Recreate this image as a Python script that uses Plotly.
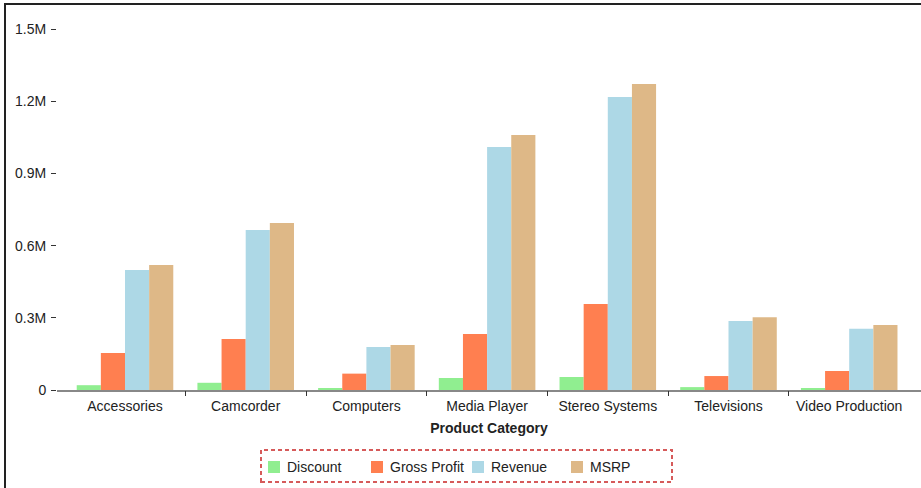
import plotly.graph_objects as go

categories = ["Accessories", "Camcorder", "Computers", "Media Player",
              "Stereo Systems", "Televisions", "Video Production"]
discount = [20000, 30000, 8000, 50000, 54000, 12000, 8000]
gross_profit = [154000, 212000, 68000, 233000, 357000, 58000, 79000]
revenue = [499000, 665000, 179000, 1010000, 1217000, 287000, 255000]
msrp = [519000, 694000, 187000, 1060000, 1271000, 302000, 270000]

series_names = ["Discount", "Gross Profit", "Revenue", "MSRP"]
series_values = [discount, gross_profit, revenue, msrp]
series_colors = ["#90EE90", "#FF7F50", "#ADD8E6", "#DEB887"]

y_tickvals = [0, 300000, 600000, 900000, 1200000, 1500000]
y_ticktext = ["0", "0.3M", "0.6M", "0.9M", "1.2M", "1.5M"]

FONT = "Liberation Sans, Arial, sans-serif"
TXT = "#222222"

fig = go.Figure()
for name, vals, col in zip(series_names, series_values, series_colors):
    fig.add_trace(go.Bar(name=name, x=categories, y=vals, showlegend=False,
                         marker=dict(color=col, line=dict(width=0))))

W, H = 921, 488
L, R, T, B = 57, 0, 29, 98
pw, ph = W - L - R, H - T - B


def px(x):
    return (x - L) / pw


def py(y):
    return (H - B - y) / ph


shapes = [
    # outer frame (left and top)
    dict(type="line", xref="paper", yref="paper", x0=px(5), x1=px(5), y0=py(3), y1=py(492),
         line=dict(color="#222222", width=2)),
    dict(type="line", xref="paper", yref="paper", x0=px(4), x1=px(925), y0=py(4), y1=py(4),
         line=dict(color="#222222", width=2)),
    # dashed legend box
    dict(type="rect", xref="paper", yref="paper", x0=px(261), x1=px(672), y0=py(482), y1=py(450),
         line=dict(color="#D65A5A", width=2, dash="4px,3px"), fillcolor="rgba(0,0,0,0)"),
]

annotations = []
legend_x = [268, 371, 472, 571]
for lx, name, col in zip(legend_x, series_names, series_colors):
    shapes.append(dict(type="rect", xref="paper", yref="paper",
                       x0=px(lx), x1=px(lx + 12), y0=py(473), y1=py(461),
                       fillcolor=col, line=dict(width=0)))
    annotations.append(dict(xref="paper", yref="paper", x=px(lx + 17), y=py(467),
                            xanchor="left", yanchor="middle", text=name, showarrow=False,
                            font=dict(family=FONT, size=14, color=TXT)))

x_range = [(57 - 125) / 120.7, (921 - 125) / 120.7]
boundary_ticks = [i + 0.5 for i in range(len(categories) - 1)]

fig.update_layout(
    width=W, height=H,
    margin=dict(l=L, r=R, t=T, b=B, pad=0),
    paper_bgcolor="white", plot_bgcolor="white",
    barmode="group", bargap=0.2, bargroupgap=0,
    font=dict(family=FONT, size=14, color=TXT),
    showlegend=False,
    shapes=shapes,
    annotations=annotations,
    xaxis=dict(
        range=x_range,
        showline=True, linecolor="#888888", linewidth=2,
        ticks="", showgrid=False, zeroline=False, ticklabelstandoff=2,
        tickfont=dict(size=14, color=TXT),
        title=dict(text="<b>Product Category</b>", font=dict(size=14, color=TXT), standoff=10),
    ),
    xaxis2=dict(
        overlaying="x", anchor="y", side="bottom", range=x_range,
        tickvals=boundary_ticks, showticklabels=False,
        ticks="outside", ticklen=5, tickcolor="#333333", tickwidth=1,
        showline=False, showgrid=False, zeroline=False,
    ),
    yaxis=dict(
        range=[0, 1500000],
        tickvals=y_tickvals, ticktext=y_ticktext,
        showline=False, showgrid=False, zeroline=False,
        ticks="outside", ticklen=5, tickcolor="#333333", tickwidth=1,
        ticklabelstandoff=2,
        tickfont=dict(size=14, color=TXT),
    ),
)
# invisible helper so the boundary-tick axis is drawn
fig.add_trace(go.Scatter(x=[x_range[0]], y=[0], xaxis="x2", mode="markers",
                         marker=dict(opacity=0), showlegend=False, hoverinfo="skip"))

fig.write_html("out.html", config={"displayModeBar": False},
               post_script="document.body.style.margin='0';")
